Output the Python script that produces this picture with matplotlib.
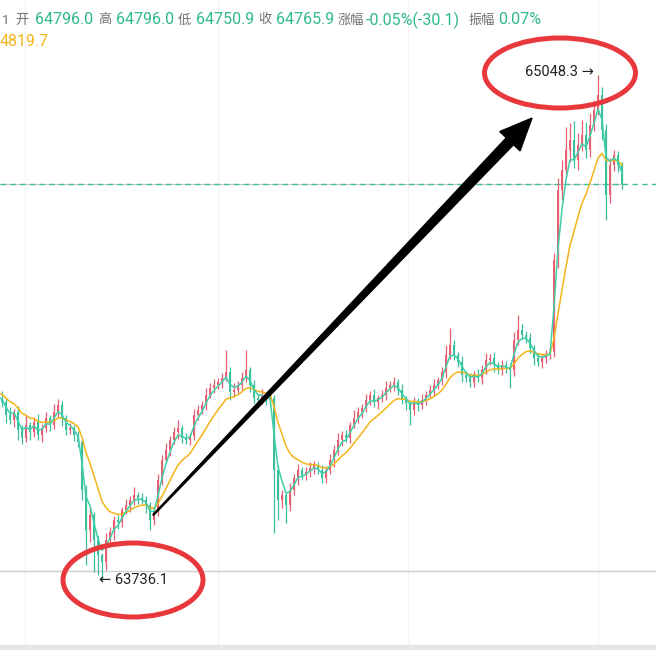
import numpy as np
import pandas as pd
import matplotlib
matplotlib.use("Agg")
import matplotlib.pyplot as plt
from matplotlib.patches import Ellipse, Polygon
from matplotlib.transforms import IdentityTransform

plt.rcParams['font.family'] = ['Roboto', 'Noto Sans CJK SC', 'DejaVu Sans']

# candles before the visible window, they only feed the moving averages
first_open = 64240
warm_close = [64243, 64230, 64256, 64235, 64217, 64243, 64261, 64230, 64209, 64225,
              64243, 64217, 64204, 64209]
warm_up = [12, 8, 15, 10, 6, 14, 9, 11, 7, 13, 10, 8, 12, 9]
warm_dn = [10, 14, 7, 12, 9, 8, 13, 10, 15, 6, 11, 9, 10, 12]

# visible candles (close, upper wick, lower wick)
close = [64199, 64165, 64152, 64173, 64126, 64105, 64139, 64121, 64147, 64113,
         64131, 64157, 64139, 64173, 64191, 64157, 64126, 64131, 64113, 64095,
         63970, 63866, 63905, 63840, 63801, 63783, 63840, 63861, 63892, 63887,
         63918, 63931, 63944, 63957, 63949, 63944, 63931, 63892, 63913, 63996,
         64048, 64074, 64100, 64121, 64131, 64105, 64100, 64110, 64165, 64178,
         64191, 64217, 64235, 64243, 64251, 64261, 64277, 64225, 64230, 64243,
         64261, 64282, 64243, 64209, 64204, 64214, 64204, 64209, 64022, 63944,
         63957, 63931, 63970, 64001, 64022, 64009, 64017, 64027, 64035, 64022,
         64001, 64022, 64048, 64074, 64100, 64113, 64105, 64139, 64157, 64173,
         64183, 64204, 64217, 64199, 64209, 64217, 64235, 64243, 64251, 64230,
         64204, 64196, 64178, 64199, 64191, 64204, 64217, 64230, 64243, 64256,
         64277, 64321, 64347, 64321, 64303, 64269, 64261, 64251, 64269, 64261,
         64282, 64308, 64313, 64295, 64282, 64295, 64287, 64282, 64360, 64386,
         64373, 64365, 64339, 64313, 64303, 64313, 64321, 64329, 64568, 64750,
         64802, 64854, 64880, 64828, 64867, 64893, 64854, 64919, 64958, 64997,
         64906, 64737, 64815, 64841, 64815, 64765.9]
up_wick = [18, 10, 22, 8, 15, 12, 25, 9, 14, 20,
           11, 16, 8, 21, 15, 10, 9, 12, 7, 10,
           8, 12, 20, 9, 10, 6, 18, 14, 10, 12,
           9, 15, 11, 20, 8, 12, 10, 9, 14, 15,
           12, 18, 10, 14, 20, 9, 13, 8, 16, 12,
           10, 18, 12, 15, 11, 14, 57, 12, 18, 10,
           16, 52, 9, 14, 10, 18, 12, 10, 8, 12,
           14, 9, 18, 11, 15, 8, 12, 16, 10, 9,
           13, 10, 15, 12, 18, 10, 14, 9, 20, 12,
           10, 15, 11, 16, 9, 14, 18, 10, 12, 8,
           15, 10, 9, 14, 11, 16, 10, 12, 15, 9,
           14, 25, 44, 12, 9, 15, 10, 13, 11, 16,
           12, 18, 10, 15, 9, 14, 11, 12, 20, 39,
           15, 10, 13, 9, 12, 10, 14, 11, 18, 30,
           25, 60, 45, 50, 30, 40, 35, 30, 25, 51.3,
           20, 15, 18, 12, 10, 8]
dn_wick = [12, 20, 10, 18, 25, 15, 10, 22, 14, 12,
           18, 9, 15, 10, 12, 20, 14, 10, 16, 12,
           25, 90, 30, 83, 52, 46.9, 20, 15, 22, 18,
           14, 10, 18, 12, 15, 10, 20, 26, 14, 10,
           12, 9, 15, 10, 18, 12, 10, 14, 9, 12,
           10, 14, 9, 12, 10, 15, 8, 20, 12, 10,
           14, 10, 18, 12, 15, 10, 12, 14, 164, 52,
           20, 47, 15, 12, 18, 10, 14, 12, 16, 10,
           14, 12, 10, 18, 12, 15, 10, 14, 9, 12,
           15, 10, 14, 12, 18, 10, 12, 9, 15, 14,
           10, 18, 39, 12, 15, 10, 14, 9, 12, 10,
           12, 15, 10, 14, 12, 18, 10, 14, 12, 9,
           15, 10, 12, 18, 10, 14, 12, 47, 15, 12,
           10, 14, 12, 18, 10, 15, 12, 10, 14, 20,
           25, 15, 30, 20, 25, 15, 20, 18, 15, 12,
           25, 65, 20, 15, 18, 12]

header_labels = ["1", "开", "高", "低", "收", "涨幅", "振幅"]
header_values = ["64796.0", "64796.0", "64750.9", "64765.9", "-0.05%(-30.1)", "0.07%"]
ma_slow_value = "4819.7"

UP = "#e8606f"
DOWN = "#3cbf9b"
MA_FAST = "#3fcfaa"
MA_SLOW = "#f4b41a"

c_all = np.array(warm_close + close, dtype=float)
o_all = np.concatenate([[first_open], c_all[:-1]])
hi_all = np.maximum(o_all, c_all) + np.array(warm_up + up_wick)
lo_all = np.minimum(o_all, c_all) - np.array(warm_dn + dn_wick)
x = np.arange(len(c_all)) - len(warm_close)

ma_fast = pd.Series(c_all).ewm(span=3).mean()
ma_slow = pd.Series(c_all).ewm(span=11).mean()

fig = plt.figure(figsize=(6.56, 6.5), dpi=100)
ax = fig.add_axes([0, 0, 1, 1])
ax.set_xlim(-0.5, 163.5)
ax.set_ylim(63554, 65244)
ax.axis("off")

# faint time grid
for gx in [5.75, 54, 101.5, 149]:
    ax.axvline(gx, color="#f2f2f2", lw=0.8, zorder=0)

ax.axhline(63760, color="#cfcfcf", lw=1, zorder=1)
ax.plot([-0.5, 155], [close[-1], close[-1]], color="#c8c8c8", lw=0.8, zorder=1)
ax.axhline(close[-1], color=DOWN, lw=1, ls=(0, (4, 3)), zorder=2)

colors = np.where(c_all >= o_all, UP, DOWN)
ax.vlines(x, lo_all, hi_all, colors=colors, lw=0.9, zorder=3)
ax.bar(x, np.maximum(np.abs(c_all - o_all), 2), bottom=np.minimum(o_all, c_all),
       width=0.55, color=colors, lw=0, zorder=3)

ax.plot(x, ma_slow, color=MA_SLOW, lw=1.1, zorder=4)
ax.plot(x, ma_fast, color=MA_FAST, lw=1.1, zorder=4)

# high / low labels
hi = int(np.argmax(hi_all))
lo = int(np.argmin(lo_all))
ax.annotate(f"{hi_all[hi]:.1f} →", xy=(x[hi], hi_all[hi]), xytext=(-3, 2),
            textcoords="offset points", ha="right", va="center", fontsize=10.5,
            color="#222222", family=["Roboto", "DejaVu Sans"])
ax.annotate(f"← {lo_all[lo]:.1f}", xy=(x[lo], lo_all[lo]), xytext=(-2, 0),
            textcoords="offset points", ha="left", va="center", fontsize=10.5,
            color="#222222", family=["Roboto", "DejaVu Sans"])

# red circles
W, H = 656, 650
for cx, cy, ew, eh in [(560, 73, 151, 70), (133, 580, 140, 74)]:
    fig.patches.append(Ellipse((cx / W, 1 - cy / H), ew / W, eh / H, fill=False,
                               ec="#e8383c", lw=3.6, transform=fig.transFigure, zorder=10))

# big tapered black arrow
fig.canvas.draw()
S = ax.transData.transform((37.8, 63905))
T = ax.transData.transform((132.5, 64937))
d = T - S
u = d / np.hypot(*d)
n = np.array([-u[1], u[0]])
B = T - u * 32
pts = [S + n * 0.5, B + n * 5, B + n * 14, T, B - n * 14, B - n * 5, S - n * 0.5]
fig.patches.append(Polygon(pts, closed=True, color="black", transform=IdentityTransform(),
                           zorder=9))

# header
hx = [2, 15, 98, 178, 258, 338, 469]
vx = [35, 116, 196, 276, 366, 498]
for px, t in zip(hx, header_labels):
    fig.text(px / W, 1 - 20 / H, t, color="#707070", fontsize=9.5, va="center")
for px, t in zip(vx, header_values):
    fig.text(px / W, 1 - 20 / H, t, color="#2fb98f", fontsize=11.5, va="center")
fig.text(0, 1 - 42 / H, ma_slow_value, color=MA_SLOW, fontsize=11.5, va="center")

ax.axhspan(63554, 63554 + 5 * 2.6, color="#e6e6e6", zorder=1)

fig.savefig("out.png", dpi=100)
